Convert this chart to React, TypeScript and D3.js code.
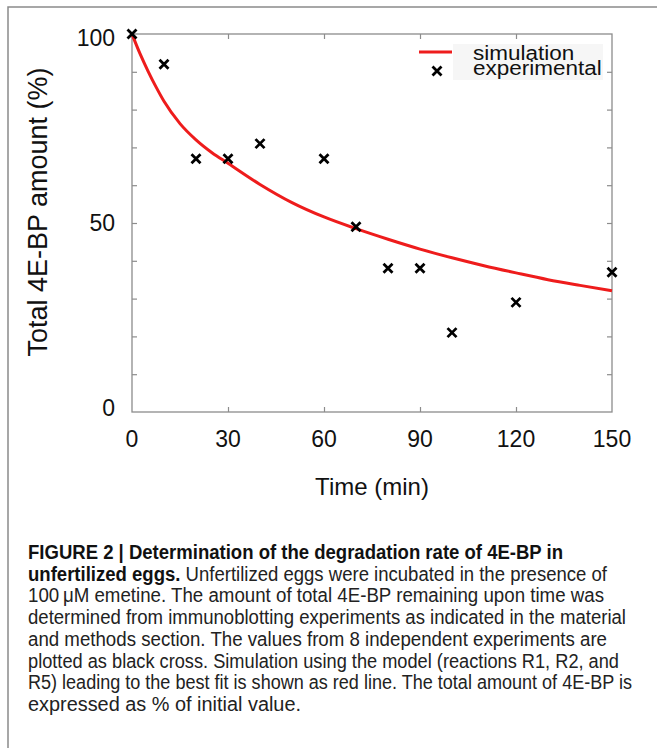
import React, { useEffect, useRef } from 'react';
import * as d3 from 'd3';

// experimental points (black crosses)
const expTime = [0, 10, 20, 30, 40, 60, 70, 80, 90, 100, 120, 150];
const expValue = [100, 92, 67, 67, 71, 67, 49, 38, 38, 21, 29, 37];

// simulation (red line)
const simTime = [0, 2.5, 5, 7.5, 10, 15, 20, 25, 30, 40, 50, 60, 70, 80, 90, 100, 110, 120, 130, 140, 150];
const simValue = [100, 94.8, 90.2, 86.0, 82.2, 76.3, 72.0, 68.6, 65.8, 60.2, 55.4, 51.6, 48.5, 45.7, 43.1, 40.8, 38.7, 36.8, 35.0, 33.5, 32.1];

const xTickLabels = [0, 30, 60, 90, 120, 150];
const xMinorTicks = [30, 60, 90, 120];
const yTickLabels = [0, 50, 100];
const yMinorTicks = [10, 20, 30, 40, 50, 60, 70, 80, 90];

const legendLabels = ['simulation', 'experimental'];

const captionLines = [
  { bold: 'FIGURE 2 | Determination of the degradation rate of 4E-BP in', text: '', w: 535 },
  { bold: 'unfertilized eggs.', text: ' Unfertilized eggs were incubated in the presence of', w: 579 },
  { bold: '', text: '100\u2009\u03bcM emetine. The amount of total 4E-BP remaining upon time was', w: 576 },
  { bold: '', text: 'determined from immunoblotting experiments as indicated in the material', w: 598 },
  { bold: '', text: 'and methods section. The values from 8 independent experiments are', w: 579 },
  { bold: '', text: 'plotted as black cross. Simulation using the model (reactions R1, R2, and', w: 591 },
  { bold: '', text: 'R5) leading to the best fit is shown as red line. The total amount of 4E-BP is', w: 604 },
  { bold: '', text: 'expressed as % of initial value.', w: 273 },
];

const W = 657;
const H = 748;
const FONT = 'Liberation Sans, Arial, Helvetica, sans-serif';
const CAPTION_FONT = 'Liberation Sans Narrow, Liberation Sans, Arial, sans-serif';

const App: React.FC = () => {
  const ref = useRef<SVGSVGElement>(null);

  useEffect(() => {
    const svg = d3.select(ref.current);
    svg.selectAll('*').remove();

    const left = 132, right = 612, top = 34, bottom = 412;
    const x = d3.scaleLinear().domain([0, 150]).range([left, right]);
    const y = d3.scaleLinear().domain([0, 100]).range([bottom, top]);

    // outer figure frame (top + left only, rest cropped)
    svg.append('path')
      .attr('d', `M8,${H} L8,7 L${W},7`)
      .attr('fill', 'none')
      .attr('stroke', '#8a8a8a')
      .attr('stroke-width', 1.5);

    const axisColor = '#8c8c8c';

    // ticks (inward, all four sides)
    const bottomAxis = svg.append('g')
      .attr('transform', `translate(0,${bottom})`)
      .call(d3.axisBottom(x).tickValues(xMinorTicks).tickSize(-5).tickFormat(() => ''));
    const topAxis = svg.append('g')
      .attr('transform', `translate(0,${top})`)
      .call(d3.axisTop(x).tickValues(xMinorTicks).tickSize(-5).tickFormat(() => ''));
    const leftAxis = svg.append('g')
      .attr('transform', `translate(${left},0)`)
      .call(d3.axisLeft(y).tickValues(yMinorTicks).tickSize(-5).tickFormat(() => ''));
    const rightAxis = svg.append('g')
      .attr('transform', `translate(${right},0)`)
      .call(d3.axisRight(y).tickValues(yMinorTicks).tickSize(-5).tickFormat(() => ''));
    [bottomAxis, topAxis, leftAxis, rightAxis].forEach((a) => {
      a.select('.domain').remove();
      a.selectAll('line').attr('stroke', axisColor).attr('stroke-width', 1.2);
    });

    // legend background
    svg.append('rect')
      .attr('x', 453).attr('y', 44)
      .attr('width', 150).attr('height', 36)
      .attr('fill', '#f6f6f6');

    // frame
    svg.append('rect')
      .attr('x', left).attr('y', top)
      .attr('width', right - left).attr('height', bottom - top)
      .attr('fill', 'none')
      .attr('stroke', axisColor)
      .attr('stroke-width', 1.3);

    // tick labels
    svg.append('g').selectAll('text')
      .data(xTickLabels)
      .enter().append('text')
      .attr('x', (d) => x(d))
      .attr('y', 447)
      .attr('text-anchor', 'middle')
      .attr('font-family', FONT)
      .attr('font-size', 23)
      .attr('fill', '#111')
      .text((d) => d);

    svg.append('g').selectAll('text')
      .data(yTickLabels)
      .enter().append('text')
      .attr('x', 115)
      .attr('y', (d) => y(d) + (d === 0 ? -4 : d === 100 ? 4 : 0) + 8)
      .attr('text-anchor', 'end')
      .attr('font-family', FONT)
      .attr('font-size', 23)
      .attr('fill', '#111')
      .text((d) => d);

    // axis titles
    svg.append('text')
      .attr('x', (left + right) / 2)
      .attr('y', 495)
      .attr('text-anchor', 'middle')
      .attr('font-family', FONT)
      .attr('font-size', 24)
      .attr('fill', '#111')
      .text('Time (min)');

    svg.append('text')
      .attr('transform', `translate(47,${(top + bottom) / 2 - 11}) rotate(-90)`)
      .attr('text-anchor', 'middle')
      .attr('font-family', FONT)
      .attr('font-size', 27)
      .attr('fill', '#111')
      .text('Total 4E-BP amount (%)');

    // simulation line
    const line = d3.line<number>()
      .x((d, i) => x(simTime[i]))
      .y((d) => y(d))
      .curve(d3.curveMonotoneX);
    svg.append('path')
      .attr('d', line(simValue))
      .attr('fill', 'none')
      .attr('stroke', '#ee1c1c')
      .attr('stroke-width', 3);

    // experimental crosses
    const cross = 'M-4.5,-4.5L4.5,4.5M-4.5,4.5L4.5,-4.5';
    svg.append('g').selectAll('path')
      .data(expValue)
      .enter().append('path')
      .attr('transform', (d, i) => `translate(${x(expTime[i])},${y(d)})`)
      .attr('d', cross)
      .attr('stroke', '#000')
      .attr('stroke-width', 2.8)
      .attr('fill', 'none');

    // legend
    svg.append('line')
      .attr('x1', 419).attr('x2', 452)
      .attr('y1', 52).attr('y2', 52)
      .attr('stroke', '#ee1c1c')
      .attr('stroke-width', 3);
    svg.append('path')
      .attr('transform', 'translate(437,71)')
      .attr('d', cross)
      .attr('stroke', '#000')
      .attr('stroke-width', 2.8)
      .attr('fill', 'none');
    const lg = svg.append('g').attr('transform', 'translate(473,60) scale(1,0.86)');
    lg.selectAll('text')
      .data(legendLabels)
      .enter().append('text')
      .attr('x', 0)
      .attr('y', (d, i) => i * 17)
      .attr('font-family', FONT)
      .attr('font-size', 22.5)
      .attr('fill', '#111')
      .text((d) => d);

    // caption
    const cap = svg.append('g');
    captionLines.forEach((ln, i) => {
      const t = cap.append('text')
        .attr('x', 28)
        .attr('y', 559 + i * 21.7)
        .attr('font-family', CAPTION_FONT)
        .attr('font-size', 20)
        .attr('fill', '#222')
        .attr('textLength', ln.w)
        .attr('lengthAdjust', 'spacingAndGlyphs');
      if (ln.bold) t.append('tspan').attr('font-weight', 'bold').attr('fill', '#111').text(ln.bold);
      if (ln.text) t.append('tspan').text(ln.text);
    });
  }, []);

  return (
    <svg
      ref={ref}
      width={W}
      height={H}
      style={{ position: 'absolute', left: 0, top: 0, background: '#fff' }}
    />
  );
};

export default App;
